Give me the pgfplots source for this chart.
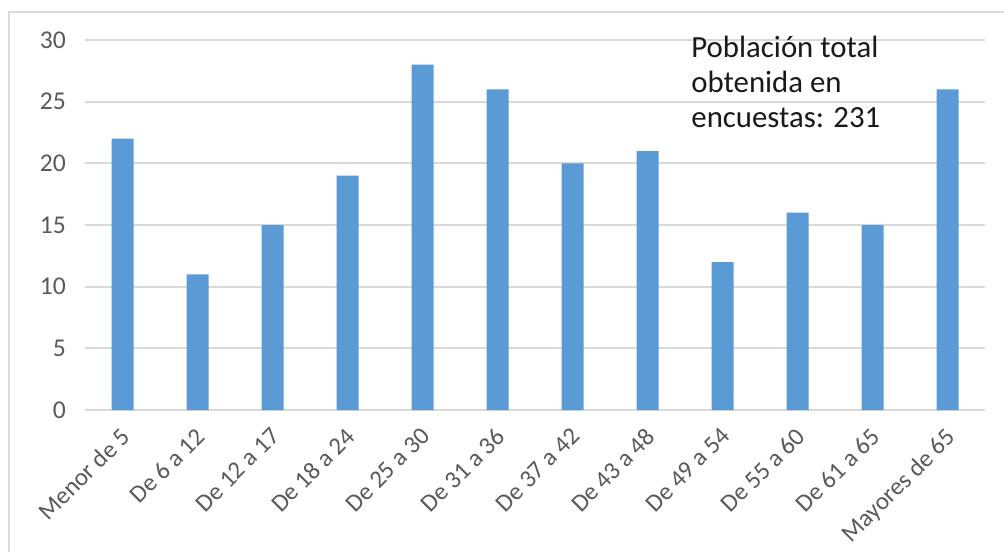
\documentclass[border=0pt]{standalone}
\usepackage{fontspec}
\setmainfont{Carlito}
\usepackage{pgfplots}
\pgfplotsset{compat=1.18}
\definecolor{barblue}{HTML}{5B9BD5}
\definecolor{gridgray}{HTML}{D9D9D9}
\definecolor{labgray}{HTML}{595959}
\begin{document}
\begin{tikzpicture}[x=1pt,y=1pt]
\useasboundingbox (0,0) rectangle (502,275.5);
\draw[gridgray, line width=1pt] (4.5,-5) -- (4.5,269.5) -- (510,269.5);
\begin{axis}[
  at={(42.5pt,70.5pt)}, anchor=south west,
  scale only axis, width=450pt, height=185pt,
  xmin=-0.5, xmax=11.5, ymin=0, ymax=30,
  ytick={0,5,...,30},
  xtick={0,...,11},
  xticklabels={Menor de 5,De 6 a 12,De 12 a 17,De 18 a 24,De 25 a 30,De 31 a 36,De 37 a 42,De 43 a 48,De 49 a 54,De 55 a 60,De 61 a 65,Mayores de 65},
  /pgf/number format/assume math mode=true,
  axis line style={draw=none},
  major tick length=0pt,
  ymajorgrids,
  major grid style={gridgray, line width=0.9pt},
  tick label style={font=\fontsize{12.8}{15}\selectfont, text=labgray},
  yticklabel style={xshift=-6pt},
  xticklabel style={font=\fontsize{12.4}{15}\selectfont, xshift=-1.5pt, yshift=-6.5pt, rotate=45, anchor=north east, inner sep=1pt},
  clip=false,
]
\addplot[ybar, bar width=11pt, fill=barblue, draw=none] coordinates {
(0,22) (1,11) (2,15) (3,19) (4,28) (5,26) (6,20) (7,21) (8,12) (9,16) (10,15) (11,26)};
\end{axis}
\node[anchor=north west, align=left, font=\fontsize{15.4}{17.5}\selectfont, text=black!90, inner sep=0pt] at (345.5,257.5) {Población total\\obtenida en\\encuestas: 231};
\end{tikzpicture}
\end{document}
